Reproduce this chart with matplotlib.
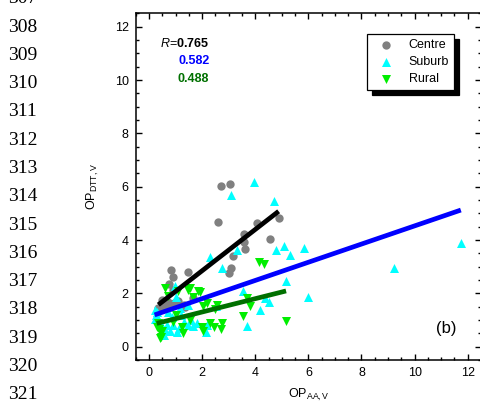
import numpy as np
import matplotlib
matplotlib.use('Agg')
import matplotlib.pyplot as plt
from matplotlib.ticker import MultipleLocator

plt.rcParams['font.family'] = ['Liberation Sans', 'DejaVu Sans']
plt.rcParams['mathtext.fontset'] = 'custom'
plt.rcParams['mathtext.rm'] = 'Liberation Sans'
plt.rcParams['mathtext.it'] = 'Liberation Sans:italic'
plt.rcParams['mathtext.bf'] = 'Liberation Sans:bold'

# Centre sites
centre_x = [2.72, 3.06, 2.59, 4.06, 4.88, 4.54, 3.56, 3.58, 3.60, 3.18, 3.10, 3.00,
            0.83, 0.90, 1.46, 0.77, 0.92, 0.48, 0.73, 1.67, 0.35, 0.80, 1.30, 0.60,
            1.10, 0.50, 0.95, 1.35]
centre_y = [6.03, 6.10, 4.66, 4.63, 4.81, 4.04, 4.23, 3.92, 3.66, 3.41, 2.96, 2.75,
            2.88, 2.63, 2.81, 2.34, 2.13, 1.75, 1.69, 1.81, 1.44, 1.50, 1.56, 1.56,
            1.70, 1.52, 1.62, 1.48]

# Suburb sites
suburb_x = [3.96, 3.08, 4.69, 4.77, 5.10, 5.30, 5.82, 2.30, 3.33, 2.76, 3.54, 4.35,
            4.50, 4.17, 5.15, 5.97, 3.69, 2.15, 2.52, 9.22, 11.74,
            0.26, 0.23, 0.21, 0.79, 1.11, 1.48, 1.67, 0.67, 0.98, 1.17, 1.58, 0.60,
            0.92, 1.04, 1.30, 1.80, 2.18, 0.42, 0.55, 0.85, 1.20, 0.35, 0.70, 1.45,
            0.50, 1.00, 0.30]
suburb_y = [6.19, 5.69, 5.47, 3.64, 3.79, 3.42, 3.69, 3.38, 3.63, 2.94, 2.08, 1.81,
            1.69, 1.38, 2.45, 1.85, 0.76, 0.56, 1.52, 2.94, 3.88,
            1.20, 1.39, 1.02, 0.58, 0.70, 0.83, 0.77, 0.83, 2.26, 1.45, 1.00, 0.62,
            0.81, 0.56, 0.94, 0.88, 0.81, 0.94, 0.45, 1.10, 1.20, 1.05, 1.30, 1.55,
            0.75, 1.85, 1.30]

# Rural sites
rural_x = [4.13, 4.34, 1.55, 1.92, 0.62, 2.20, 3.69, 3.80, 3.54, 2.05, 2.49, 2.30,
           2.74, 2.70, 1.99, 5.16, 0.42, 0.29, 0.48, 1.29, 1.55, 1.10, 1.48, 1.86,
           1.67, 2.55, 0.40, 2.05, 2.43, 1.23, 0.33, 0.44, 0.92, 0.36, 0.70, 1.00]
rural_y = [3.18, 3.10, 2.19, 2.06, 2.19, 1.65, 1.81, 1.53, 1.15, 1.53, 1.40, 0.88,
           0.88, 0.65, 0.75, 0.96, 0.31, 0.75, 0.60, 0.50, 1.00, 2.08, 2.14, 2.08,
           1.85, 1.58, 0.60, 0.58, 0.74, 0.75, 0.90, 0.38, 0.94, 0.65, 1.90, 1.20]

# Linear fits (slope, intercept) and correlation
fit_slope = [0.774, 0.341, 0.25]
fit_intercept = [1.30, 1.12, 0.80]
r_values = ['0.765', '0.582', '0.488']

line_numbers = list(range(307, 322))

fig = plt.figure(figsize=(4.8, 4.07), dpi=100)
ax = fig.add_axes([0.2828, 0.1155, 0.7193, 0.8516])

ax.scatter(centre_x, centre_y, s=36, marker='o', color='#808080', label='Centre', zorder=3, linewidths=0)
ax.scatter(suburb_x, suburb_y, s=42, marker='^', color='#00ffff', label='Suburb', zorder=3, linewidths=0)
ax.scatter(rural_x, rural_y, s=42, marker='v', color='#00ee00', label='Rural', zorder=3, linewidths=0)

groups = [(centre_x, 'black'), (suburb_x, '#0000ff'), (rural_x, '#007000')]
for (xs, col), a, b in zip(groups, fit_slope, fit_intercept):
    xx = np.array([min(xs), max(xs)])
    ax.plot(xx, a * xx + b, color=col, lw=3.4, zorder=4, solid_capstyle='butt')

ax.set_xlim(-0.5, 12.5)
ax.set_ylim(-0.5, 12.5)
ax.xaxis.set_major_locator(MultipleLocator(2))
ax.xaxis.set_minor_locator(MultipleLocator(0.5))
ax.yaxis.set_major_locator(MultipleLocator(2))
ax.yaxis.set_minor_locator(MultipleLocator(0.5))
ax.tick_params(which='both', direction='in', top=True, right=True, labelsize=9, width=1)
ax.tick_params(which='major', length=4.5, pad=5)
ax.tick_params(which='minor', length=2.4)
for sp in ax.spines.values():
    sp.set_linewidth(1.1)

ax.set_xlabel(r'OP$_{\mathrm{AA,V}}$', fontsize=9, labelpad=6)
ax.set_ylabel(r'OP$_{\mathrm{DTT,V}}$', fontsize=9, labelpad=10)

ax.text(0.213, 0.913, r'$R$=$\mathbf{' + r_values[0] + '}$', transform=ax.transAxes,
        ha='right', va='center', fontsize=9, color='black')
ax.text(0.213, 0.864, r_values[1], transform=ax.transAxes, ha='right', va='center',
        fontsize=9, fontweight='bold', color='#0000ff')
ax.text(0.213, 0.812, r_values[2], transform=ax.transAxes, ha='right', va='center',
        fontsize=9, fontweight='bold', color='#007000')

ax.text(0.93, 0.09, '(b)', transform=ax.transAxes, ha='right', va='center', fontsize=12)

leg = ax.legend(loc='upper right', bbox_to_anchor=(0.922, 0.9406), borderaxespad=0,
                fontsize=9, fancybox=False, edgecolor='black', framealpha=1,
                handletextpad=0.7, borderpad=0.4, labelspacing=0.42, handlelength=2.2,
                shadow={'ox': 3.6, 'oy': -3.6, 'facecolor': 'black', 'edgecolor': 'black', 'alpha': 1})
leg.get_frame().set_linewidth(0.9)

# page line numbers
for i, n in enumerate(line_numbers):
    ypx = -1.3 + 28.3 * i
    fig.text(8 / 480, 1 - ypx / 407, str(n), ha='left', va='center', fontsize=14,
             family='Liberation Serif')

fig.savefig('out.png', dpi=100)
